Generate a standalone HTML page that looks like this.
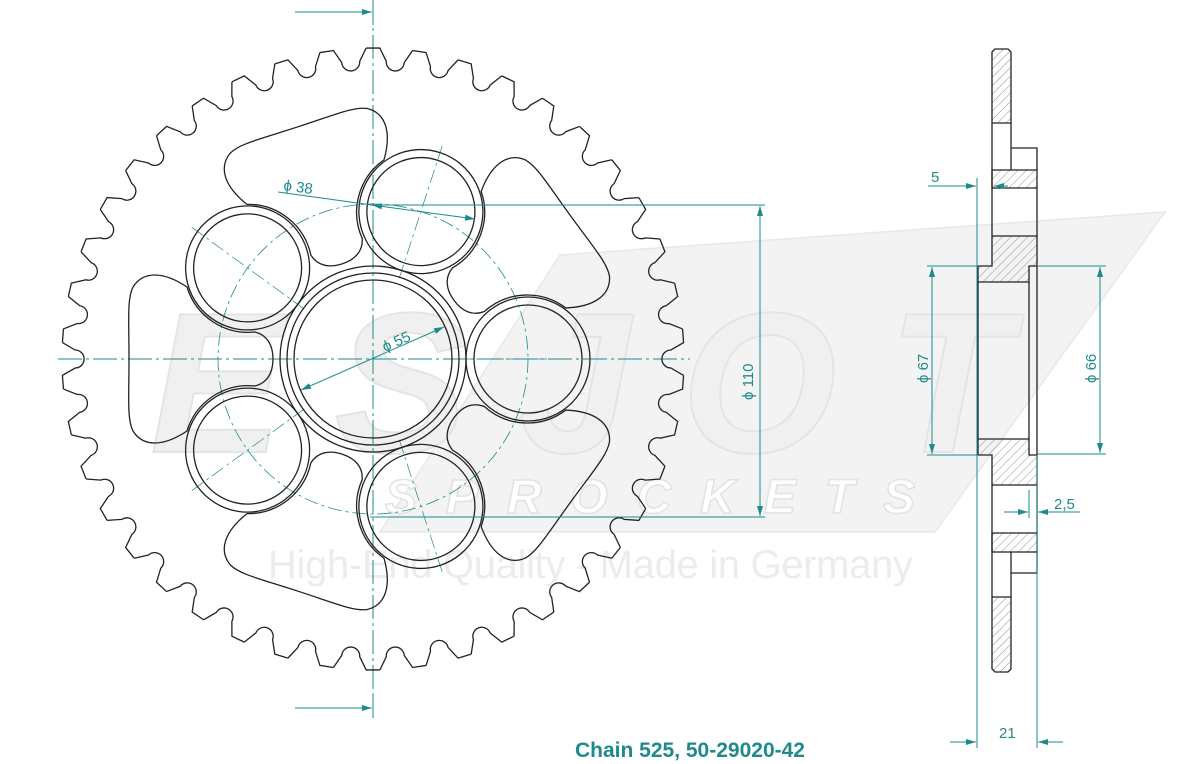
<!DOCTYPE html>
<html><head><meta charset="utf-8"><style>
html,body{margin:0;padding:0;background:#fff;}
svg{display:block;}
text{font-family:"Liberation Sans",sans-serif;}
</style></head><body>
<svg width="1200" height="764" viewBox="0 0 1200 764" xmlns="http://www.w3.org/2000/svg">
<defs>
<pattern id="h" width="6" height="6" patternUnits="userSpaceOnUse" patternTransform="rotate(45)">
<line x1="0" y1="0" x2="0" y2="6" stroke="#777" stroke-width="0.8"/></pattern>
<marker id="a" viewBox="0 0 10 6" refX="10" refY="3" markerWidth="14" markerHeight="6" markerUnits="userSpaceOnUse" orient="auto-start-reverse"><path d="M0,0 L10,3 L0,6 Z" fill="#1f8a8a"/></marker>
<path id="tooth" d="M -6.84,-310.93 L 6.84,-310.93 L 13.28,-297.70 A 9 9 0 0 0 31.23,-296.36 L 39.57,-308.47"/>
<path id="cut" d="M 100,0 C 100,-14 106,-24 118,-27 A 64 64 0 0 0 186,-72 C 210,-88 230,-88 240,-72 C 246,-60 244,-40 244,0 C 244,40 246,60 240,72 C 230,88 210,88 186,72 A 64 64 0 0 0 118,27 C 106,24 100,14 100,0 Z"/>
<g id="hole"><circle cx="155" cy="0" r="54"/><circle cx="155" cy="0" r="62"/></g>
<line id="hcl" x1="85" y1="0" x2="225" y2="0"/>
</defs>
<!-- watermark -->
<polygon points="560,255 1165,212 935,532 380,532" fill="#f3f3f3" stroke="#e8e8e8" stroke-width="1.5"/>
<text x="150" y="452" font-size="200" font-weight="bold" font-style="italic" fill="#f0f0f0" stroke="#e4e4e4" stroke-width="2" textLength="860">ESJOT</text>
<text x="385" y="513" font-size="48" font-weight="bold" font-style="italic" fill="#fff" stroke="#e2e2e2" stroke-width="1.5" textLength="530">SPROCKETS</text>
<text x="268" y="578" font-size="40" fill="#ececec" textLength="645">High-End Quality - Made in Germany</text>

<!-- center lines -->
<g stroke="#1f8a8a" stroke-width="1" fill="none">
<line x1="373" y1="0" x2="373" y2="715" stroke-dasharray="24,4,3,4"/>
<line x1="58" y1="359" x2="690" y2="359" stroke-dasharray="24,4,3,4"/>
<circle cx="373" cy="359" r="155" stroke-dasharray="14,4,3,4" stroke-width="0.8"/>
<g transform="translate(373,359)" stroke-dasharray="14,4,3,4" stroke-width="0.7">
<use href="#hcl" transform="rotate(0)"/><use href="#hcl" transform="rotate(-72)"/><use href="#hcl" transform="rotate(-144)"/><use href="#hcl" transform="rotate(-216)"/><use href="#hcl" transform="rotate(-288)"/>
</g>
</g>

<!-- sprocket outline -->
<g fill="none" stroke="#222" stroke-width="1.3">
<g transform="translate(373,359)">
<use href="#tooth" transform="rotate(0)"/><use href="#tooth" transform="rotate(8.5714)"/><use href="#tooth" transform="rotate(17.1429)"/><use href="#tooth" transform="rotate(25.7143)"/><use href="#tooth" transform="rotate(34.2857)"/><use href="#tooth" transform="rotate(42.8571)"/><use href="#tooth" transform="rotate(51.4286)"/>
<use href="#tooth" transform="rotate(60)"/><use href="#tooth" transform="rotate(68.5714)"/><use href="#tooth" transform="rotate(77.1429)"/><use href="#tooth" transform="rotate(85.7143)"/><use href="#tooth" transform="rotate(94.2857)"/><use href="#tooth" transform="rotate(102.8571)"/><use href="#tooth" transform="rotate(111.4286)"/>
<use href="#tooth" transform="rotate(120)"/><use href="#tooth" transform="rotate(128.5714)"/><use href="#tooth" transform="rotate(137.1429)"/><use href="#tooth" transform="rotate(145.7143)"/><use href="#tooth" transform="rotate(154.2857)"/><use href="#tooth" transform="rotate(162.8571)"/><use href="#tooth" transform="rotate(171.4286)"/>
<use href="#tooth" transform="rotate(180)"/><use href="#tooth" transform="rotate(188.5714)"/><use href="#tooth" transform="rotate(197.1429)"/><use href="#tooth" transform="rotate(205.7143)"/><use href="#tooth" transform="rotate(214.2857)"/><use href="#tooth" transform="rotate(222.8571)"/><use href="#tooth" transform="rotate(231.4286)"/>
<use href="#tooth" transform="rotate(240)"/><use href="#tooth" transform="rotate(248.5714)"/><use href="#tooth" transform="rotate(257.1429)"/><use href="#tooth" transform="rotate(265.7143)"/><use href="#tooth" transform="rotate(274.2857)"/><use href="#tooth" transform="rotate(282.8571)"/><use href="#tooth" transform="rotate(291.4286)"/>
<use href="#tooth" transform="rotate(300)"/><use href="#tooth" transform="rotate(308.5714)"/><use href="#tooth" transform="rotate(317.1429)"/><use href="#tooth" transform="rotate(325.7143)"/><use href="#tooth" transform="rotate(334.2857)"/><use href="#tooth" transform="rotate(342.8571)"/><use href="#tooth" transform="rotate(351.4286)"/>
<use href="#hole" transform="rotate(0)"/><use href="#hole" transform="rotate(-72)"/><use href="#hole" transform="rotate(-144)"/><use href="#hole" transform="rotate(-216)"/><use href="#hole" transform="rotate(-288)"/>
<use href="#cut" transform="rotate(-36)"/><use href="#cut" transform="rotate(-108)"/><use href="#cut" transform="rotate(-180)"/><use href="#cut" transform="rotate(-252)"/><use href="#cut" transform="rotate(-324)"/>
</g>
<circle cx="373" cy="359" r="79"/>
<circle cx="373" cy="359" r="86"/>
<circle cx="373" cy="359" r="93"/>
</g>

<!-- dimensions main -->
<g stroke="#1f8a8a" stroke-width="1" fill="none">
<line x1="295" y1="12" x2="372" y2="12" marker-end="url(#a)"/>
<line x1="373" y1="0" x2="373" y2="25"/>
<line x1="295" y1="708" x2="372" y2="708" marker-end="url(#a)"/>
<line x1="373" y1="695" x2="373" y2="718"/>
<line x1="370" y1="205" x2="765" y2="205"/>
<line x1="370" y1="517" x2="765" y2="517"/>
<line x1="760" y1="206" x2="760" y2="516" marker-start="url(#a)" marker-end="url(#a)"/>
<line x1="278" y1="192" x2="372" y2="205"/>
<line x1="372" y1="205" x2="475" y2="219" marker-start="url(#a)" marker-end="url(#a)"/>
<line x1="301" y1="390" x2="444" y2="327" marker-start="url(#a)" marker-end="url(#a)"/>
</g>
<g fill="#1f8a8a" font-size="15">
<text x="283" y="190" transform="rotate(8 283 190)">ϕ 38</text>
<text x="385" y="352" transform="rotate(-24 385 352)">ϕ 55</text>
<text x="753" y="400" transform="rotate(-90 753 400)">ϕ 110</text>
</g>

<!-- side view -->
<g stroke="#222" stroke-width="1.3">
<path d="M992,52 L995,49 L1008,49 L1011,52 L1011,123 L992,123 Z" fill="url(#h)"/>
<path d="M992,170 H1037 V188 H992 Z" fill="url(#h)"/>
<path d="M992,236 H1037 V266 H1029 V282 H978 V266 H992 Z" fill="url(#h)"/>
<path d="M978,439 H1029 V455 H1037 V485 H992 V455 H978 Z" fill="url(#h)"/>
<path d="M992,533 H1037 V552 H992 Z" fill="url(#h)"/>
<path d="M992,597 H1011 V669 L1008,672 L995,672 L992,669 Z" fill="url(#h)"/>
<g fill="none">
<line x1="992" y1="123" x2="992" y2="236"/>
<line x1="1011" y1="123" x2="1011" y2="170"/>
<polyline points="1011,148 1037,148 1037,170"/>
<line x1="1037" y1="188" x2="1037" y2="236"/>
<line x1="978" y1="282" x2="978" y2="439"/>
<line x1="1029" y1="282" x2="1029" y2="439"/>
<line x1="1037" y1="266" x2="1037" y2="455"/>
<line x1="992" y1="485" x2="992" y2="597"/>
<line x1="1037" y1="485" x2="1037" y2="533"/>
<polyline points="1011,597 1011,552"/>
<polyline points="1011,573 1037,573 1037,552"/>
</g>
</g>
<g stroke="#1f8a8a" stroke-width="1" fill="none">
<line x1="928" y1="186" x2="976" y2="186" marker-end="url(#a)"/>
<line x1="1008" y1="186" x2="994" y2="186" marker-end="url(#a)"/>
<line x1="977" y1="178" x2="977" y2="748"/>
<line x1="1037" y1="455" x2="1037" y2="748"/>
<line x1="1029" y1="490" x2="1029" y2="518"/>
<line x1="927" y1="266" x2="978" y2="266"/>
<line x1="927" y1="455" x2="978" y2="455"/>
<line x1="932" y1="267" x2="932" y2="454" marker-start="url(#a)" marker-end="url(#a)"/>
<line x1="1037" y1="266" x2="1106" y2="266"/>
<line x1="1037" y1="454" x2="1106" y2="454"/>
<line x1="1100" y1="267" x2="1100" y2="453" marker-start="url(#a)" marker-end="url(#a)"/>
<line x1="1004" y1="512" x2="1028" y2="512" marker-end="url(#a)"/>
<line x1="1080" y1="512" x2="1038" y2="512" marker-end="url(#a)"/>
<line x1="950" y1="742" x2="976" y2="742" marker-end="url(#a)"/>
<line x1="1063" y1="742" x2="1038" y2="742" marker-end="url(#a)"/>
</g>
<g fill="#1f8a8a" font-size="15">
<text x="931" y="182">5</text>
<text x="928" y="383" transform="rotate(-90 928 383)">ϕ 67</text>
<text x="1096" y="383" transform="rotate(-90 1096 383)">ϕ 66</text>
<text x="1054" y="509">2,5</text>
<text x="999" y="738">21</text>
</g>
<text x="575" y="757" font-size="21" fill="#1f8a8a" font-weight="bold">Chain 525, 50-29020-42</text>
</svg>
</body></html>
